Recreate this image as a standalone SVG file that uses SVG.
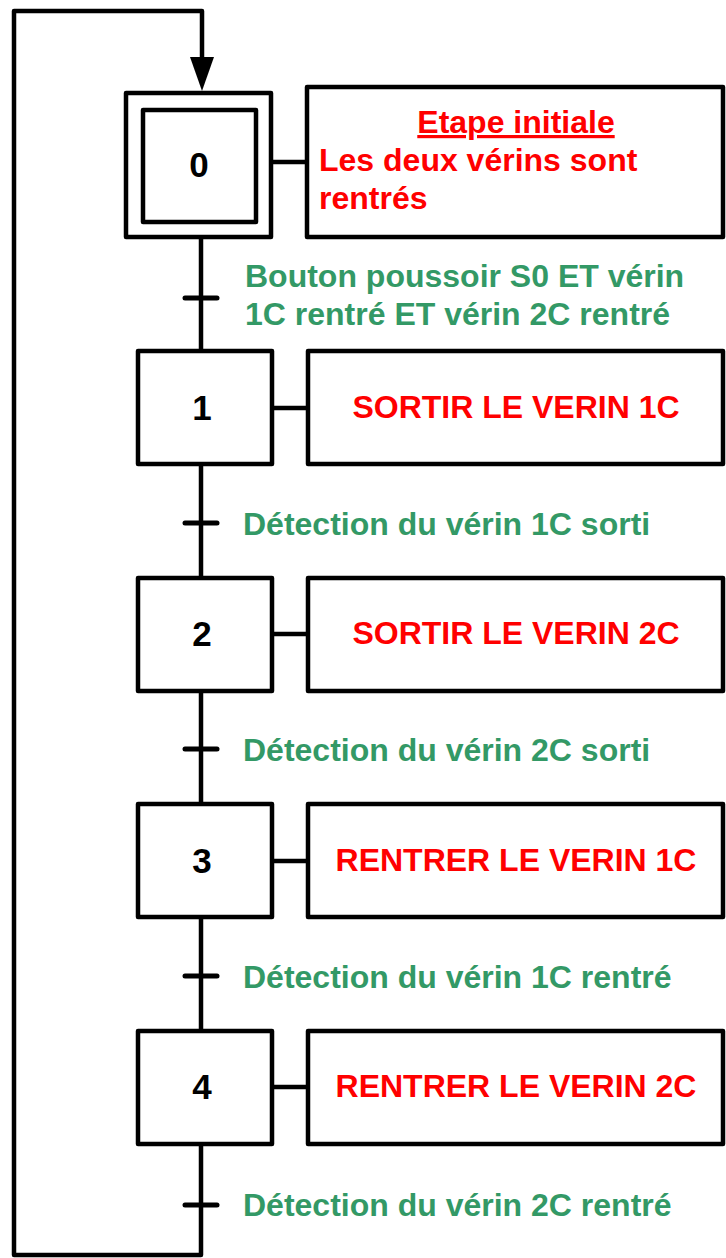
<svg xmlns="http://www.w3.org/2000/svg" width="726" height="1258" viewBox="0 0 726 1258">
<style>
.box{fill:#fff;stroke:#000;stroke-width:4.5;stroke-linejoin:round}
.ln{fill:none;stroke:#000;stroke-width:4.5;stroke-linejoin:round}
.tick{stroke:#000;stroke-width:5;stroke-linecap:round}
.num{font-family:"Liberation Sans",Arial,sans-serif;font-weight:bold;font-size:35px;fill:#000;text-anchor:middle}
.act{font-family:"Liberation Sans",Arial,sans-serif;font-weight:bold;font-size:32px;fill:#ff0000}
.tr{font-family:"Liberation Sans",Arial,sans-serif;font-weight:bold;font-size:32px;fill:#339966}
</style>
<g id="connectors">
<path class="ln" d="M201,237 V351"/>
<path class="ln" d="M201,464 V578"/>
<path class="ln" d="M201,691 V804"/>
<path class="ln" d="M201,917 V1031"/>
<path class="ln" d="M201,1144 V1255 H14 V11 H202 V60"/>
<path d="M190,57 L214,57 L202,91 Z" fill="#000"/>
<line class="ln" x1="271" y1="162" x2="307" y2="162"/>
<line class="ln" x1="272" y1="408" x2="308" y2="408"/>
<line class="ln" x1="272" y1="634" x2="308" y2="634"/>
<line class="ln" x1="272" y1="861" x2="308" y2="861"/>
<line class="ln" x1="272" y1="1087" x2="308" y2="1087"/>
</g>
<g id="step0">
<rect class="box" x="126" y="93" width="145" height="144"/>
<rect class="box" x="143" y="110" width="113" height="112"/>
<text class="num" x="199" y="177">0</text>
</g>
<g id="action0">
<rect class="box" x="307" y="87" width="416" height="150"/>
<text class="act" x="516" y="133" text-anchor="middle" text-decoration="underline">Etape initiale</text>
<text class="act" x="319" y="171">Les deux vérins sont</text>
<text class="act" x="319" y="209">rentrés</text>
</g>
<g id="t0">
<line class="tick" x1="185" y1="298" x2="217" y2="298"/>
<text class="tr" x="245" y="287">Bouton poussoir S0 ET vérin</text>
<text class="tr" x="245" y="325">1C rentré ET vérin 2C rentré</text>
</g>
<g id="step1">
<rect class="box" x="138" y="351" width="134" height="113"/>
<text class="num" x="202" y="420">1</text>
</g>
<g id="action1">
<rect class="box" x="308" y="351" width="415" height="113"/>
<text class="act" x="516" y="418" text-anchor="middle">SORTIR LE VERIN 1C</text>
</g>
<g id="t1">
<line class="tick" x1="185" y1="523" x2="217" y2="523"/>
<text class="tr" x="243" y="535">Détection du vérin 1C sorti</text>
</g>
<g id="step2">
<rect class="box" x="138" y="578" width="134" height="113"/>
<text class="num" x="202" y="646">2</text>
</g>
<g id="action2">
<rect class="box" x="308" y="578" width="415" height="113"/>
<text class="act" x="516" y="644" text-anchor="middle">SORTIR LE VERIN 2C</text>
</g>
<g id="t2">
<line class="tick" x1="185" y1="749" x2="217" y2="749"/>
<text class="tr" x="243" y="761">Détection du vérin 2C sorti</text>
</g>
<g id="step3">
<rect class="box" x="138" y="804" width="134" height="113"/>
<text class="num" x="202" y="873">3</text>
</g>
<g id="action3">
<rect class="box" x="308" y="804" width="415" height="113"/>
<text class="act" x="516" y="871" text-anchor="middle">RENTRER LE VERIN 1C</text>
</g>
<g id="t3">
<line class="tick" x1="185" y1="976" x2="217" y2="976"/>
<text class="tr" x="243" y="988">Détection du vérin 1C rentré</text>
</g>
<g id="step4">
<rect class="box" x="138" y="1031" width="134" height="113"/>
<text class="num" x="202" y="1099">4</text>
</g>
<g id="action4">
<rect class="box" x="308" y="1031" width="415" height="113"/>
<text class="act" x="516" y="1097" text-anchor="middle">RENTRER LE VERIN 2C</text>
</g>
<g id="t4">
<line class="tick" x1="185" y1="1205" x2="217" y2="1205"/>
<text class="tr" x="243" y="1216">Détection du vérin 2C rentré</text>
</g>
</svg>
